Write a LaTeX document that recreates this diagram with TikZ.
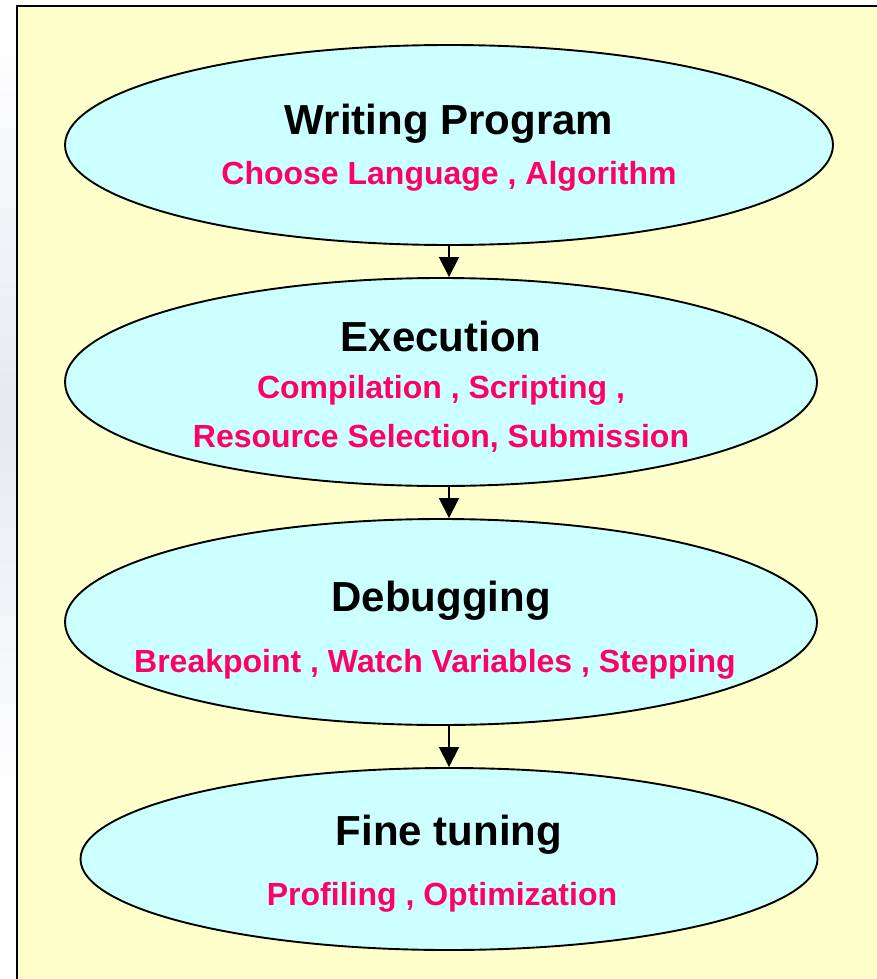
\documentclass[tikz,border=0pt]{standalone}
\usepackage{fontspec}
\setmainfont{Liberation Sans}
\usetikzlibrary{shapes.geometric,arrows.meta}
\definecolor{panelyellow}{HTML}{FFFFCC}
\definecolor{stagecyan}{HTML}{CCFFFF}
\definecolor{notepink}{HTML}{FF0066}
\definecolor{edgehaze}{HTML}{E6E9F1}
\tikzset{
  stage/.style={ellipse, draw=black, line width=1.9pt, fill=stagecyan, inner sep=0pt},
  stagetitle/.style={anchor=base, inner sep=0pt, font=\fontsize{42}{48}\selectfont\bfseries, text=black},
  stagenote/.style={anchor=base, inner sep=0pt, font=\fontsize{32}{38}\selectfont\bfseries, text=notepink},
  flow/.style={line width=1.6pt, -{Triangle[width=20pt,length=20pt]}}
}
\begin{document}
\begin{tikzpicture}[x=1pt,y=-1pt]
  \useasboundingbox (0,0) rectangle (876,979);
  \fill[white] (0,0) rectangle (876,979);
  % faint haze to the left of the panel
  \shade[top color=white, bottom color=white, middle color=edgehaze] (0,30) rectangle (17,800);
  % yellow panel, running off the right and bottom edges
  \draw[fill=panelyellow, line width=2pt] (17,990) -- (17,6) -- (890,6);
  \fill[panelyellow] (18,7) rectangle (890,990);

  % stages
  \node[stage, minimum width=768, minimum height=200] (write) at (449,145) {};
  \node[stage, minimum width=752, minimum height=208] (exec)  at (441,382) {};
  \node[stage, minimum width=752, minimum height=206] (debug) at (441,622) {};
  \node[stage, minimum width=737, minimum height=182] (tune)  at (449,859) {};

  % stage texts
  \node[stagetitle] (writeT) at (449,135) {Writing Program};
  \node[stagenote]  (writeN) at (449,184) {Choose Language , Algorithm};
  \node[stagetitle] (execT)  at (441,351) {Execution};
  \node[stagenote]  (execN1) at (441,398) {Compilation , Scripting ,};
  \node[stagenote]  (execN2) at (441,447) {Resource Selection, Submission};
  \node[stagetitle] (debugT) at (441,611) {Debugging};
  \node[stagenote]  (debugN) at (435,672) {Breakpoint , Watch Variables , Stepping};
  \node[stagetitle] (tuneT)  at (449,845) {Fine tuning};
  \node[stagenote]  (tuneN)  at (442,905) {Profiling , Optimization};

  % connectors
  \draw[flow] (write.south) -- (write.south |- exec.north);
  \draw[flow] (write.south |- exec.south) -- (write.south |- debug.north);
  \draw[flow] (write.south |- debug.south) -- (tune.north);
\end{tikzpicture}
\end{document}
